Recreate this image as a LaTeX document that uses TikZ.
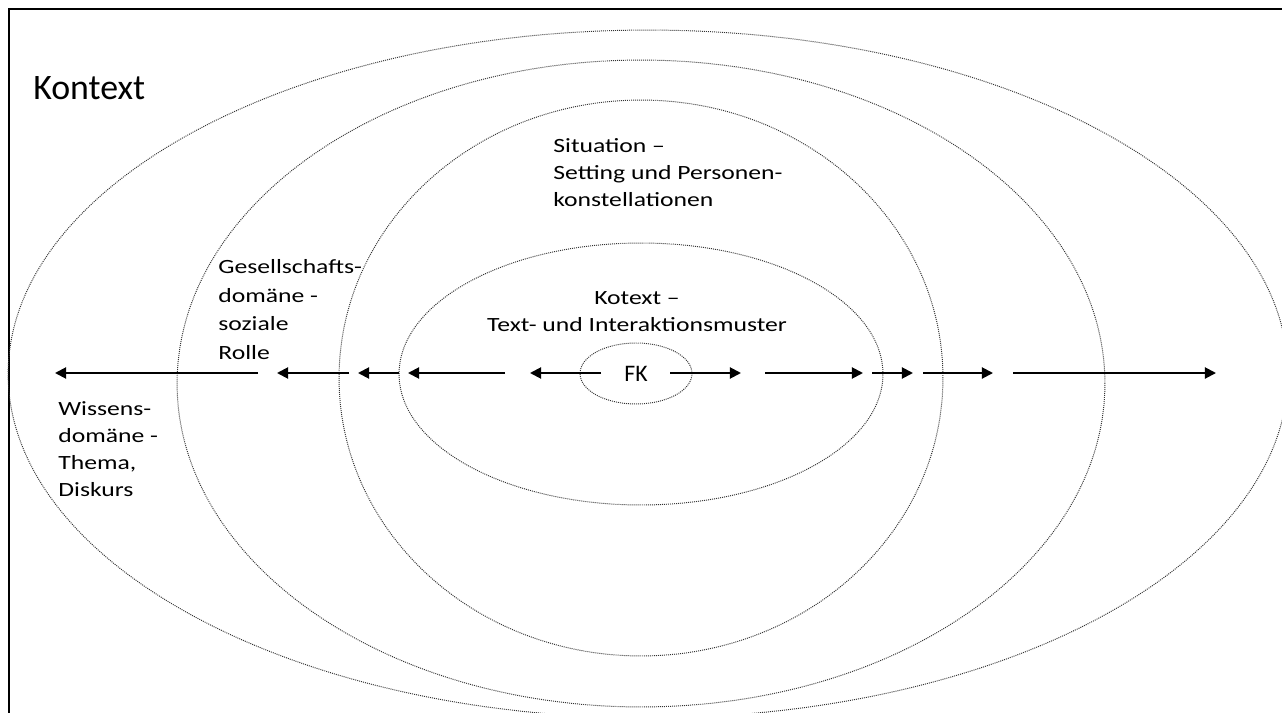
\documentclass[tikz,border=0pt]{standalone}
\usepackage{fontspec}
\setmainfont{Carlito}
\newfontfamily\widefont[FakeStretch=1.27]{Carlito}
\usetikzlibrary{arrows.meta, shapes.geometric}

\begin{document}
\begin{tikzpicture}[x = 0.02cm, y = -0.02cm]
\tikzstyle{RingStyle}=[
shape = ellipse,
draw = black!80,
line width = 0.55pt,
dash pattern = on 0.55pt off 0.6pt,
inner sep = 0pt]
\tikzstyle{RayStyle}=[
line width = 1.1pt,
-{Triangle[length = 6.3pt, width = 6.3pt]}]
\tikzstyle{TextStyle}=[
inner sep = 0pt,
anchor = base west,
align = left,
font = \widefont\fontsize{11.5}{15.2}\selectfont]
\useasboundingbox (0,0) rectangle (1282,713);
\clip (0,0) rectangle (1282,713);
\draw[line width = 0.75pt] (9,9) rectangle (1310,740);
% rings from outside to inside
\node[RingStyle, minimum width = 25.6cm, minimum height = 13.76cm] (wissen) at (648,374) {};
\node[RingStyle, minimum width = 18.56cm, minimum height = 12.94cm] (gesell) at (641,383.5) {};
\node[RingStyle, minimum width = 12.08cm, minimum height = 11.12cm] (situ) at (641,378) {};
\node[RingStyle, minimum width = 9.68cm, minimum height = 5.24cm] (kotext) at (641,374) {};
\node[RingStyle, minimum width = 2.24cm, minimum height = 1.22cm,
font = \fontsize{13.5}{16}\selectfont] (fk) at (636,373.5) {FK};
% labels (anchored at the last baseline)
\node[TextStyle, font = \fontsize{20.4}{24}\selectfont] (kontextlabel) at (33,100) {Kontext};
\node[TextStyle] (situlabel) at (553,206) {Situation –\\Setting und Personen-\\konstellationen};
\node[TextStyle, anchor = base, align = center] (kotextlabel) at (637,331) {Kotext –\\Text- und Interaktionsmuster};
\node[TextStyle, font = \widefont\fontsize{11.5}{16.2}\selectfont] (gesellabel) at (218,359) {Gesellschafts-\\domäne -\\soziale\\Rolle};
\node[TextStyle] (wissenlabel) at (58,496) {Wissens-\\domäne -\\Thema,\\Diskurs};
% arrows
\foreach \from/\to [count = \i] in {505/408, 399/358, 349/277, 258/55, 601/530,
670/741, 765/863, 872/913, 923/993, 1013/1216}
{
\coordinate (s\i) at (\from,373);
\coordinate (e\i) at (\to,373);
\draw[RayStyle] (s\i) -- (e\i);
}
\end{tikzpicture}
\end{document}
